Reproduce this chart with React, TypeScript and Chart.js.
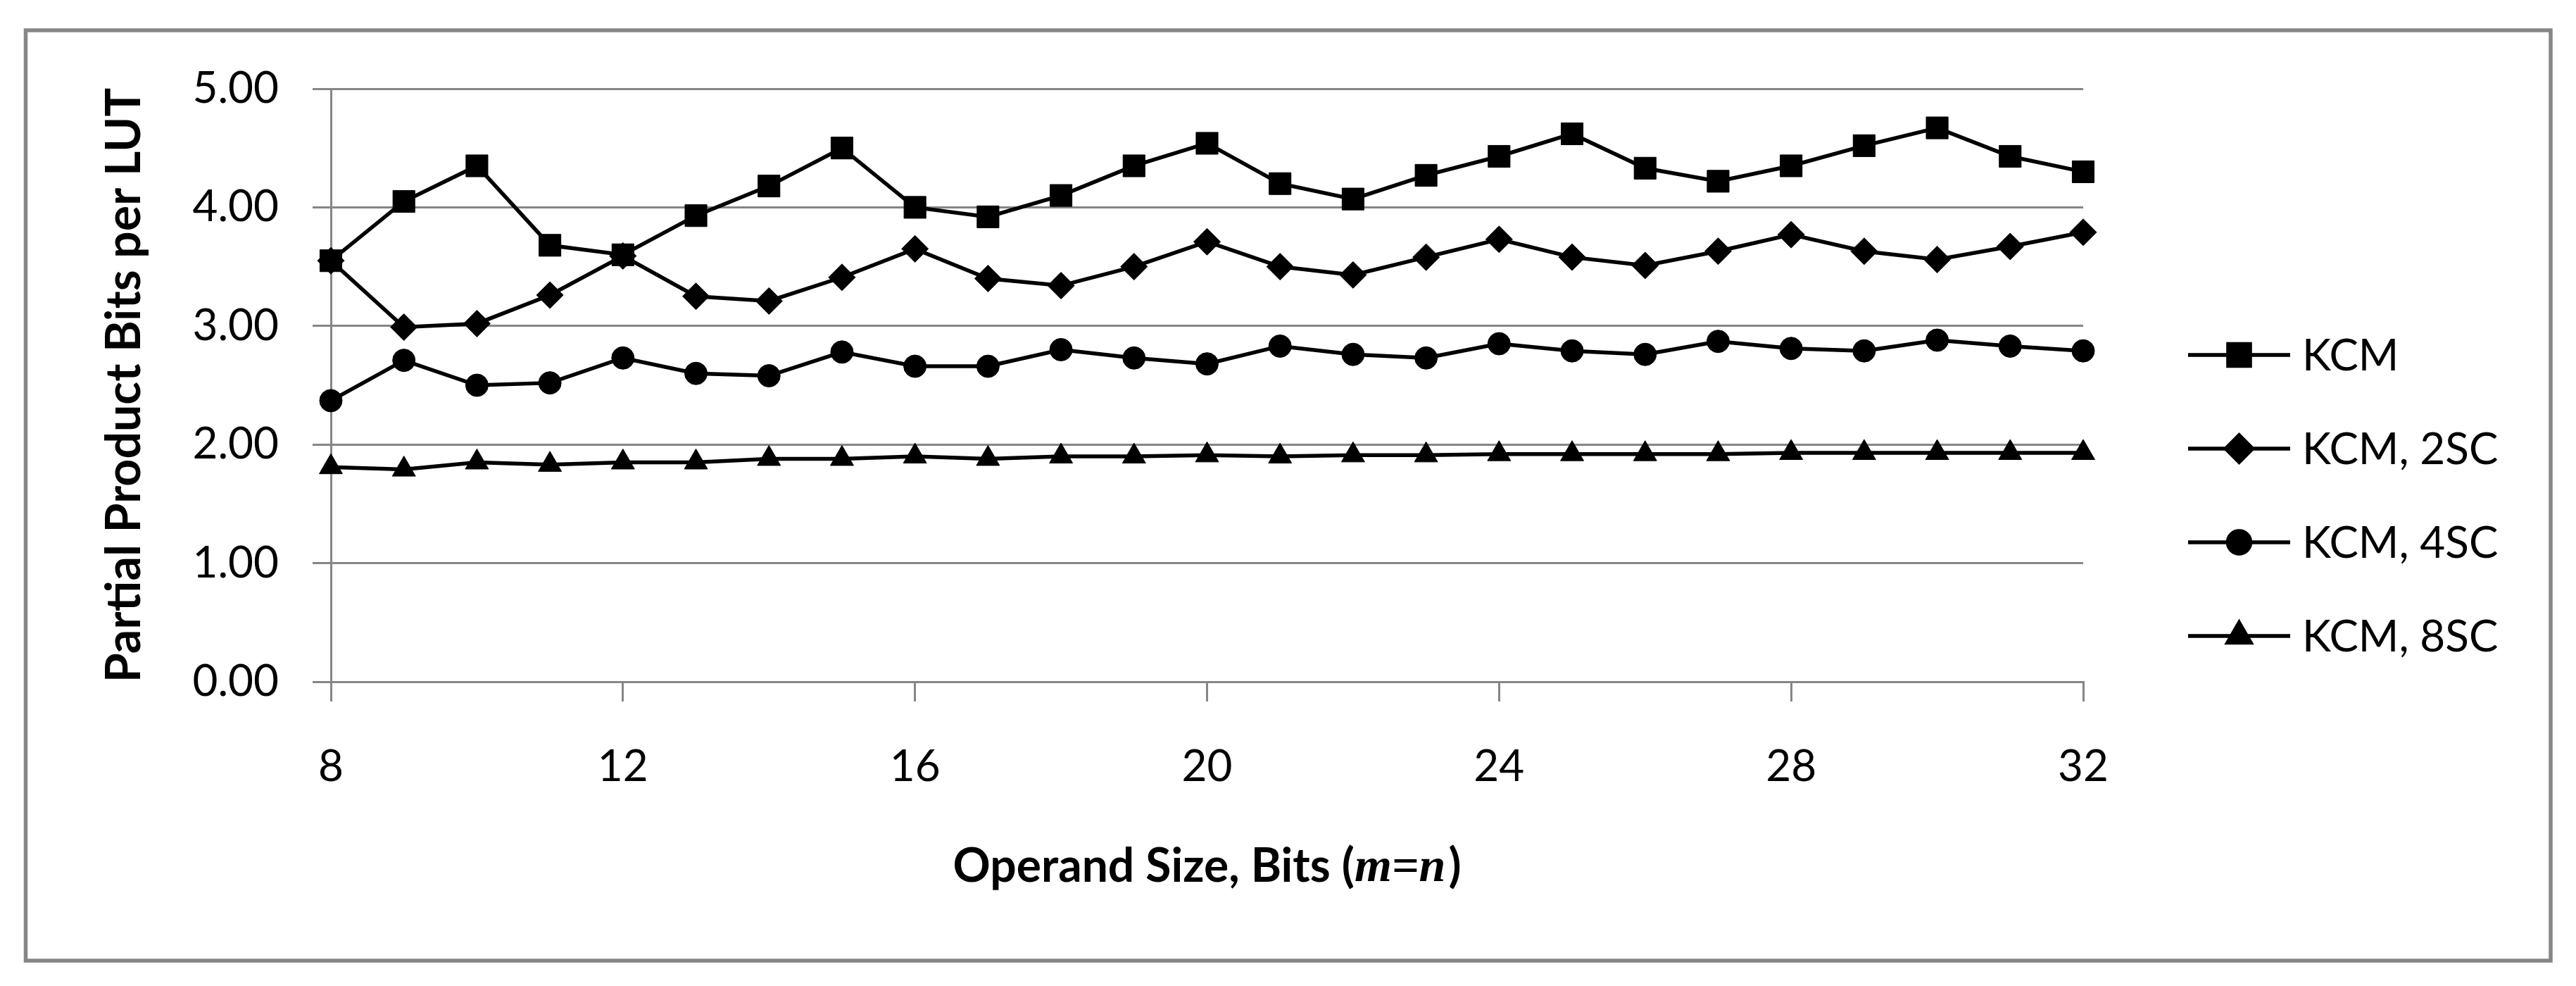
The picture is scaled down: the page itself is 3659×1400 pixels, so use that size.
import React, { useEffect, useRef } from "react";
import { Chart, registerables } from "chart.js";
import { drawPoint } from "chart.js/helpers";

Chart.register(...registerables);

const bits = [8, 9, 10, 11, 12, 13, 14, 15, 16, 17, 18, 19, 20, 21, 22, 23, 24, 25, 26, 27, 28, 29, 30, 31, 32];
const seriesNames = ["KCM", "KCM, 2SC", "KCM, 4SC", "KCM, 8SC"];
const kcm = [3.55, 4.05, 4.35, 3.68, 3.6, 3.93, 4.18, 4.5, 4.0, 3.92, 4.1, 4.35, 4.54, 4.2, 4.07, 4.27, 4.43, 4.62, 4.33, 4.22, 4.35, 4.52, 4.67, 4.43, 4.3];
const kcm2sc = [3.55, 2.99, 3.02, 3.26, 3.59, 3.25, 3.21, 3.41, 3.65, 3.4, 3.34, 3.5, 3.71, 3.5, 3.43, 3.58, 3.73, 3.58, 3.51, 3.63, 3.77, 3.63, 3.56, 3.67, 3.79];
const kcm4sc = [2.37, 2.71, 2.5, 2.52, 2.73, 2.6, 2.58, 2.78, 2.66, 2.66, 2.8, 2.73, 2.68, 2.83, 2.76, 2.73, 2.85, 2.79, 2.76, 2.87, 2.81, 2.79, 2.88, 2.83, 2.79];
const kcm8sc = [1.81, 1.79, 1.85, 1.83, 1.85, 1.85, 1.88, 1.88, 1.9, 1.88, 1.9, 1.9, 1.91, 1.9, 1.91, 1.91, 1.92, 1.92, 1.92, 1.92, 1.93, 1.93, 1.93, 1.93, 1.93];
const yTitle = "Partial Product Bits per LUT";
const xTitleMain = "Operand Size, Bits (";
const xTitleItalic = "m=n";
const xTitleEnd = ")";

const W = 3659;
const H = 1400;
const GRAY = "#868686";
const FONT = "Lato, 'Open Sans', sans-serif";

const pointStyles = ["rect", "rectRot", "circle", "triangle"];
const pointRadii = [22, 19, 16, 19];

const framePlugin = {
  id: "frame",
  beforeDraw(chart: any) {
    const ctx = chart.ctx;
    ctx.save();
    ctx.fillStyle = "#ffffff";
    ctx.fillRect(0, 0, chart.width, chart.height);
    ctx.strokeStyle = GRAY;
    ctx.lineWidth = 5.5;
    ctx.strokeRect(36.5, 43, 3623 - 36.5, 1364 - 43);
    ctx.restore();
  },
};

const extrasPlugin = {
  id: "extras",
  afterDraw(chart: any) {
    const ctx = chart.ctx;
    const area = chart.chartArea;
    ctx.save();
    // x axis title with mixed styling
    const boldFont = `bold 66px ${FONT}`;
    const italFont = `bold italic 68px 'Liberation Serif', 'DejaVu Serif', serif`;
    ctx.textBaseline = "middle";
    ctx.fillStyle = "#000";
    ctx.font = boldFont;
    const w1 = ctx.measureText(xTitleMain).width;
    const w3 = ctx.measureText(xTitleEnd).width;
    ctx.font = italFont;
    const w2 = ctx.measureText(xTitleItalic).width;
    const total = w1 + w2 + w3 + 4;
    let x = (area.left + area.right) / 2 - total / 2;
    const y = 1231;
    ctx.textAlign = "left";
    ctx.font = boldFont;
    ctx.fillText(xTitleMain, x, y);
    x += w1;
    ctx.font = italFont;
    ctx.fillText(xTitleItalic, x, y + 2);
    x += w2 + 4;
    ctx.font = boldFont;
    ctx.fillText(xTitleEnd, x, y);

    // legend: line with marker in the middle
    const rows = [504, 637, 770, 903];
    const lx0 = 3108;
    const lx1 = 3253;
    const tx = 3270;
    chart.data.datasets.forEach((ds: any, i: number) => {
      const ry = rows[i];
      ctx.strokeStyle = "#000";
      ctx.lineWidth = 5.5;
      ctx.beginPath();
      ctx.moveTo(lx0, ry);
      ctx.lineTo(lx1, ry);
      ctx.stroke();
      ctx.fillStyle = "#000";
      drawPoint(ctx, { pointStyle: ds.pointStyle, radius: ds.pointRadius, rotation: 0, borderWidth: 1 }, (lx0 + lx1) / 2, ry);
      ctx.fillStyle = "#000";
      ctx.font = `62px ${FONT}`;
      ctx.textAlign = "left";
      ctx.textBaseline = "middle";
      ctx.fillText(ds.label, tx, ry + 2);
    });
    ctx.restore();
  },
};

export default function App() {
  const ref = useRef<HTMLCanvasElement | null>(null);
  useEffect(() => {
    if (!ref.current) return;
    const seriesValues = [kcm, kcm2sc, kcm4sc, kcm8sc];
    const datasets = seriesValues.map((vals, i) => ({
      label: seriesNames[i],
      data: bits.map((b, j) => ({ x: b, y: vals[j] })),
      borderColor: "#000",
      backgroundColor: "#000",
      borderWidth: 5.5,
      pointStyle: pointStyles[i],
      pointRadius: pointRadii[i],
      pointBackgroundColor: "#000",
      pointBorderColor: "#000",
      pointBorderWidth: 1,
      tension: 0,
      clip: false as any,
    }));
    const chart = new Chart(ref.current, {
      type: "line",
      data: { datasets },
      options: {
        animation: false,
        responsive: false,
        devicePixelRatio: 1,
        layout: { padding: { left: 0, top: 126, right: W - 2959, bottom: H - 968 - 150 } },
        plugins: { legend: { display: false }, tooltip: { enabled: false } },
        scales: {
          x: {
            type: "linear",
            min: 8,
            max: 32,
            ticks: {
              stepSize: 4,
              padding: 56,
              color: "#000",
              font: { family: FONT, size: 62 },
              callback: (v: any) => String(v),
            },
            grid: { drawOnChartArea: false, drawTicks: true, tickLength: 28, color: GRAY, lineWidth: 3 },
            border: { display: true, color: GRAY, width: 3 },
            afterFit: (s: any) => {
              s.height = 150;
            },
          },
          y: {
            type: "linear",
            min: 0,
            max: 5,
            ticks: {
              stepSize: 1,
              padding: 48,
              color: "#000",
              font: { family: FONT, size: 62 },
              callback: (v: any) => Number(v).toFixed(2),
            },
            grid: { drawTicks: true, tickLength: 26, color: GRAY, lineWidth: 3 },
            border: { display: true, color: GRAY, width: 3 },
            title: {
              display: true,
              text: yTitle,
              color: "#000",
              font: { family: FONT, size: 68, weight: "bold" },
              padding: { top: 136, bottom: 0 },
            },
            afterFit: (s: any) => {
              s.width = 470;
            },
          },
        },
      },
      plugins: [framePlugin, extrasPlugin],
    });
    return () => chart.destroy();
  }, []);
  return (
    <div style={{ position: "fixed", left: 0, top: 0, width: W, height: H, background: "#fff" }}>
      <canvas ref={ref} width={W} height={H} style={{ width: W, height: H, display: "block" }} />
    </div>
  );
}
